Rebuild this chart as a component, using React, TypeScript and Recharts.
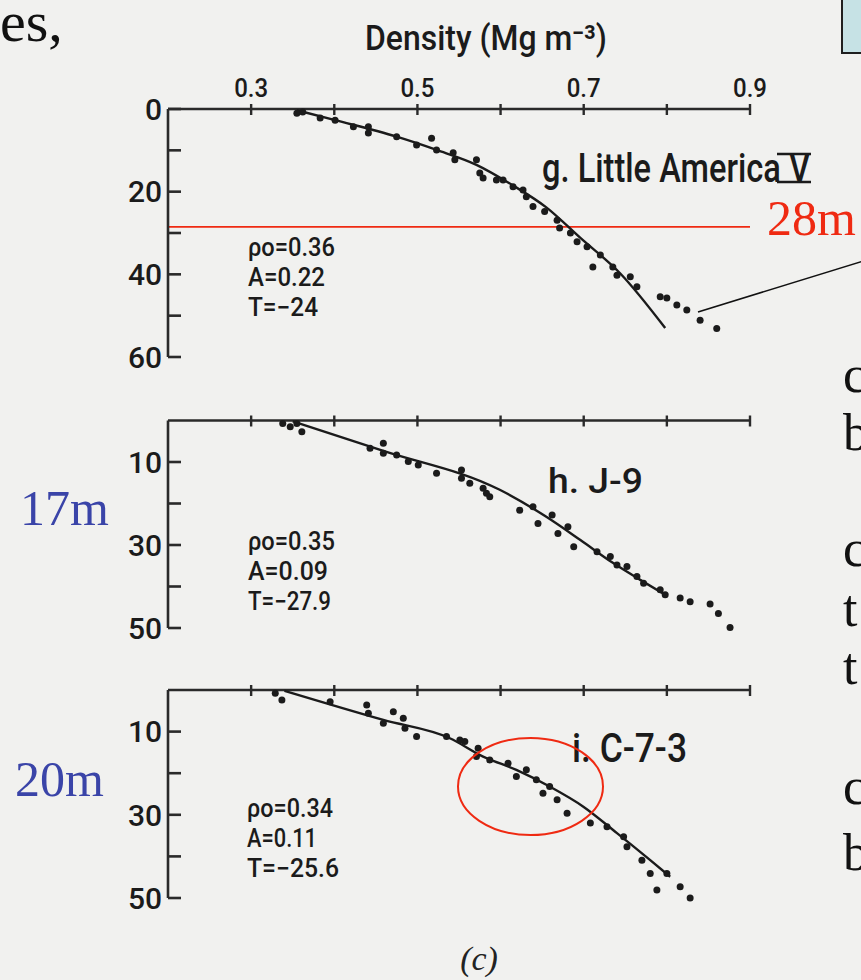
import React from 'react';
import { ScatterChart, Scatter, XAxis, YAxis, ReferenceLine } from 'recharts';

const PAGE_W = 861;
const PAGE_H = 980;
const PAPER = '#f1f1ef';
const INK = '#1b1b1b';
const AXIS = '#2a2a2a';
const RED = '#ef2a12';
const BLUE = '#3a44a8';
const FIG_FONT = 'Roboto, "Liberation Sans", sans-serif';
const SLIDE_FONT = '"Liberation Serif", "DejaVu Serif", serif';

// shared density axis (Mg m-3)
const X_TICKS = [0.3, 0.4, 0.5, 0.6, 0.7, 0.8, 0.9];
const X_TICK_LABELS = ['0.3', '', '0.5', '', '0.7', '', '0.9'];

// g. Little America V
const gDepthTicks = [0, 10, 20, 30, 40, 50, 60];
const gDepthLabels = ['0', '', '20', '', '40', '', '60'];
const gCurveDensity = [0.355, 0.401, 0.475, 0.523, 0.571, 0.615, 0.655, 0.696, 0.744, 0.798];
const gCurveDepth = [0.3, 2.7, 6.7, 9.9, 13.5, 18.5, 23.8, 31.2, 39.8, 53];
const gPointDensity = [0.355, 0.362, 0.383, 0.401, 0.423, 0.441, 0.441, 0.475, 0.499, 0.517, 0.523, 0.543, 0.545, 0.571, 0.575, 0.579, 0.595, 0.603, 0.615, 0.627, 0.631, 0.639, 0.653, 0.668, 0.671, 0.684, 0.692, 0.704, 0.711, 0.72, 0.735, 0.74, 0.756, 0.764, 0.792, 0.8, 0.812, 0.824, 0.84, 0.86];
const gPointDepth = [1.0, 0.7, 2.2, 2.7, 4.3, 4.3, 5.8, 6.7, 8.7, 7.1, 9.9, 10.6, 12.3, 12.3, 15.5, 16.7, 17.2, 17.2, 18.8, 19.6, 21.2, 23.6, 24.8, 26.9, 28.8, 30.0, 32.1, 33.3, 38.2, 35.3, 38.2, 40.2, 40.6, 43.0, 45.4, 45.7, 47.4, 48.6, 51.1, 53.1];
const gMarkDepth = 28.5;

// h. J-9
const hDepthTicks = [10, 20, 30, 40, 50];
const hDepthLabels = ['10', '', '30', '', '50'];
const hCurveDensity = [0.35, 0.459, 0.599, 0.655, 0.696, 0.735, 0.768, 0.798];
const hCurveDepth = [0.2, 7.3, 16.7, 23.2, 28.8, 34.3, 38.4, 42.0];
const hPointDensity = [0.338, 0.347, 0.361, 0.355, 0.443, 0.459, 0.459, 0.475, 0.489, 0.501, 0.523, 0.553, 0.553, 0.563, 0.579, 0.583, 0.587, 0.623, 0.639, 0.645, 0.662, 0.669, 0.681, 0.688, 0.716, 0.732, 0.74, 0.752, 0.764, 0.772, 0.792, 0.798, 0.816, 0.828, 0.852, 0.862, 0.876];
const hPointDepth = [0.7, 1.5, 2.7, 0.7, 6.7, 5.5, 7.9, 8.3, 9.9, 10.7, 12.7, 11.9, 13.9, 15.1, 16.3, 17.5, 18.4, 21.6, 20.8, 24.8, 22.8, 27.2, 25.6, 30.4, 31.6, 32.8, 34.8, 35.2, 37.6, 39.2, 40.8, 42.0, 42.8, 43.7, 44.2, 46.5, 49.9];

// i. C-7-3
const iDepthTicks = [10, 20, 30, 40, 50];
const iDepthLabels = ['10', '', '30', '', '50'];
const iCurveDensity = [0.34, 0.459, 0.539, 0.579, 0.619, 0.659, 0.7, 0.74, 0.78, 0.804];
const iCurveDepth = [0.2, 7.2, 11.6, 16.0, 19.2, 23.2, 28.1, 34.4, 40.9, 44.9];
const iPointDensity = [0.329, 0.337, 0.395, 0.439, 0.441, 0.459, 0.471, 0.483, 0.485, 0.499, 0.535, 0.557, 0.573, 0.587, 0.551, 0.571, 0.609, 0.619, 0.631, 0.643, 0.651, 0.659, 0.668, 0.68, 0.708, 0.728, 0.748, 0.752, 0.77, 0.78, 0.788, 0.8, 0.816, 0.828];
const iPointDepth = [0.8, 2.4, 2.8, 3.6, 5.6, 8.0, 5.2, 6.8, 9.2, 11.2, 11.2, 12.4, 14.0, 16.8, 12.0, 16.0, 17.6, 20.8, 19.2, 21.6, 24.8, 23.2, 26.4, 29.6, 32.0, 32.9, 35.3, 37.7, 40.9, 44.1, 48.1, 44.1, 47.3, 50.0];

const zip = (d: number[], z: number[]) => d.map((v, i) => ({ d: v, z: z[i] }));

const X_AXIS_H = 30;
const Y_AXIS_W = 60;
const PLOT_LEFT = 168;
const PLOT_RIGHT = 750;

function DensityTick(props: any) {
  const { x, y, payload, showLabel } = props;
  const label = showLabel ? X_TICK_LABELS[X_TICKS.indexOf(payload.value)] : '';
  return (
    <g>
      <line x1={x} x2={x} y1={y - 5} y2={y + 6} stroke={AXIS} strokeWidth={2.4} />
      {label ? (
        <text
          x={x}
          y={y - 12}
          textAnchor="middle"
          fontFamily={FIG_FONT}
          fontWeight={500}
          fontSize={26}
          fill={INK}
          textLength={34}
          lengthAdjust="spacingAndGlyphs"
        >
          {label}
        </text>
      ) : null}
    </g>
  );
}

function DepthTick(props: any) {
  const { x, y, payload, ticks, labels } = props;
  const label = labels[ticks.indexOf(payload.value)];
  return (
    <g>
      <line x1={x} x2={x + 13} y1={y} y2={y} stroke={AXIS} strokeWidth={2.6} />
      {label ? (
        <text
          x={x - 6}
          y={y}
          dy="0.36em"
          textAnchor="end"
          fontFamily={FIG_FONT}
          fontWeight={500}
          fontSize={30}
          fill={INK}
        >
          {label}
        </text>
      ) : null}
    </g>
  );
}

const Dot = (p: any) => <circle cx={p.cx} cy={p.cy} r={3.5} fill={INK} />;
const NoDot = () => <g />;

interface PanelProps {
  top: number;
  height: number;
  plotTop: number;
  plotBottom: number;
  depthMax: number;
  depthTicks: number[];
  depthLabels: string[];
  showDensityLabels?: boolean;
  points: { d: number; z: number }[];
  curve: { d: number; z: number }[];
  markDepth?: number;
}

function Panel(p: PanelProps) {
  const marginTop = p.plotTop - p.top - X_AXIS_H;
  const marginBottom = p.height - (p.plotBottom - p.top);
  return (
    <div style={{ position: 'absolute', left: 0, top: p.top, width: PAGE_W, height: p.height }}>
      <ScatterChart
        width={PAGE_W}
        height={p.height}
        margin={{ top: marginTop, right: PAGE_W - PLOT_RIGHT, bottom: marginBottom, left: PLOT_LEFT - Y_AXIS_W }}
      >
        <XAxis
          type="number"
          dataKey="d"
          orientation="top"
          domain={[0.2, 0.9]}
          ticks={X_TICKS}
          interval={0}
          height={X_AXIS_H}
          tickSize={0}
          tickMargin={0}
          tickLine={false}
          axisLine={{ stroke: AXIS, strokeWidth: 2.6 }}
          tick={(t: any) => <DensityTick {...t} showLabel={p.showDensityLabels} />}
        />
        <YAxis
          type="number"
          dataKey="z"
          reversed
          domain={[0, p.depthMax]}
          ticks={p.depthTicks}
          interval={0}
          width={Y_AXIS_W}
          tickSize={0}
          tickMargin={0}
          tickLine={false}
          axisLine={{ stroke: AXIS, strokeWidth: 2.6 }}
          tick={(t: any) => <DepthTick {...t} ticks={p.depthTicks} labels={p.depthLabels} />}
        />
        {p.markDepth !== undefined ? (
          <ReferenceLine y={p.markDepth} stroke={RED} strokeWidth={1.8} />
        ) : null}
        <Scatter
          data={p.curve}
          line={{ stroke: INK, strokeWidth: 2.4 }}
          lineJointType="monotoneX"
          shape={NoDot}
          isAnimationActive={false}
        />
        <Scatter data={p.points} shape={Dot} isAnimationActive={false} />
      </ScatterChart>
    </div>
  );
}

// fit parameters printed inside each panel
function Params({ x, y, rows }: { x: number; y: number; rows: [string, number][] }) {
  return (
    <g fontFamily={FIG_FONT} fontWeight={500} fontSize={25} fill={INK}>
      {rows.map(([s, w], i) => (
        <text key={s} x={x} y={y + i * 30} textLength={w} lengthAdjust="spacingAndGlyphs">
          {s}
        </text>
      ))}
    </g>
  );
}

function Overlay() {
  return (
    <svg
      width={PAGE_W}
      height={PAGE_H}
      style={{ position: 'absolute', left: 0, top: 0, pointerEvents: 'none', overflow: 'hidden' }}
    >
      {/* slide text around the scanned figure, cut by the frame */}
      <text x={0} y={41} fontFamily={SLIDE_FONT} fontSize={58} fill="#111">es,</text>
      <rect x={842} y={-4} width={30} height={57} fill="#c6e2e5" stroke="#1f1f1f" strokeWidth={2} />
      <g fontFamily={SLIDE_FONT} fontSize={52} fill="#111">
        <text x={843} y={392}>
          c<tspan x={843} dy={58}>b</tspan>
        </text>
        <text x={843} y={566}>
          c<tspan x={843} dy={60}>t</tspan><tspan x={843} dy={58}>t</tspan>
        </text>
        <text x={843} y={804}>
          c<tspan x={843} dy={66}>b</tspan>
        </text>
      </g>

      {/* figure axis title */}
      <text x={365} y={50} fontFamily={FIG_FONT} fontWeight={500} fontSize={35} fill={INK} textLength={242} lengthAdjust="spacingAndGlyphs">
        Density (Mg m⁻³)
      </text>

      {/* panel names */}
      <g fontFamily={FIG_FONT} fontWeight={500} fill={INK}>
        <text x={542} y={182} fontSize={41} textLength={268} lengthAdjust="spacingAndGlyphs">
          g. Little America V
        </text>
        <line x1={777} x2={811} y1={154} y2={154} stroke={INK} strokeWidth={2.6} />
        <line x1={777} x2={811} y1={182} y2={182} stroke={INK} strokeWidth={2.6} />
        <text x={548} y={493} fontSize={35} textLength={95} lengthAdjust="spacingAndGlyphs">h. J-9</text>
        <text x={572} y={762} fontSize={41} textLength={115} lengthAdjust="spacingAndGlyphs">i. C-7-3</text>
      </g>

      <Params x={248} y={256} rows={[['ρo=0.36', 87], ['A=0.22', 77], ['T=−24', 70]]} />
      <Params x={248} y={550} rows={[['ρo=0.35', 87], ['A=0.09', 80], ['T=−27.9', 83]]} />
      <Params x={247} y={817} rows={[['ρo=0.34', 86], ['A=0.11', 70], ['T=−25.6', 92]]} />

      {/* slide annotations */}
      <text x={767} y={235} fontFamily={SLIDE_FONT} fontSize={50} fill={RED}>28m</text>
      <line x1={698} y1={312} x2={870} y2={259} stroke="#111" strokeWidth={1.6} />
      <text x={20} y={525} fontFamily={SLIDE_FONT} fontSize={50} fill={BLUE}>17m</text>
      <text x={15} y={796} fontFamily={SLIDE_FONT} fontSize={50} fill={BLUE}>20m</text>
      <ellipse cx={530.5} cy={786.5} rx={72.5} ry={48.5} fill="none" stroke={RED} strokeWidth={2} />

      <text x={479} y={970} textAnchor="middle" fontFamily={SLIDE_FONT} fontStyle="italic" fontSize={34} fill="#222">(c)</text>
    </svg>
  );
}

export default function App() {
  return (
    <div
      style={{
        position: 'absolute',
        left: 0,
        top: 0,
        width: PAGE_W,
        height: PAGE_H,
        background: PAPER,
        overflow: 'hidden',
      }}
    >
      <Panel
        top={0}
        height={377}
        plotTop={109}
        plotBottom={357}
        depthMax={60}
        depthTicks={gDepthTicks}
        depthLabels={gDepthLabels}
        showDensityLabels
        points={zip(gPointDensity, gPointDepth)}
        curve={zip(gCurveDensity, gCurveDepth)}
        markDepth={gMarkDepth}
      />
      <Panel
        top={380}
        height={268}
        plotTop={420.5}
        plotBottom={628}
        depthMax={50}
        depthTicks={hDepthTicks}
        depthLabels={hDepthLabels}
        points={zip(hPointDensity, hPointDepth)}
        curve={zip(hCurveDensity, hCurveDepth)}
      />
      <Panel
        top={650}
        height={268}
        plotTop={690}
        plotBottom={898}
        depthMax={50}
        depthTicks={iDepthTicks}
        depthLabels={iDepthLabels}
        points={zip(iPointDensity, iPointDepth)}
        curve={zip(iCurveDensity, iCurveDepth)}
      />
      <Overlay />
    </div>
  );
}
